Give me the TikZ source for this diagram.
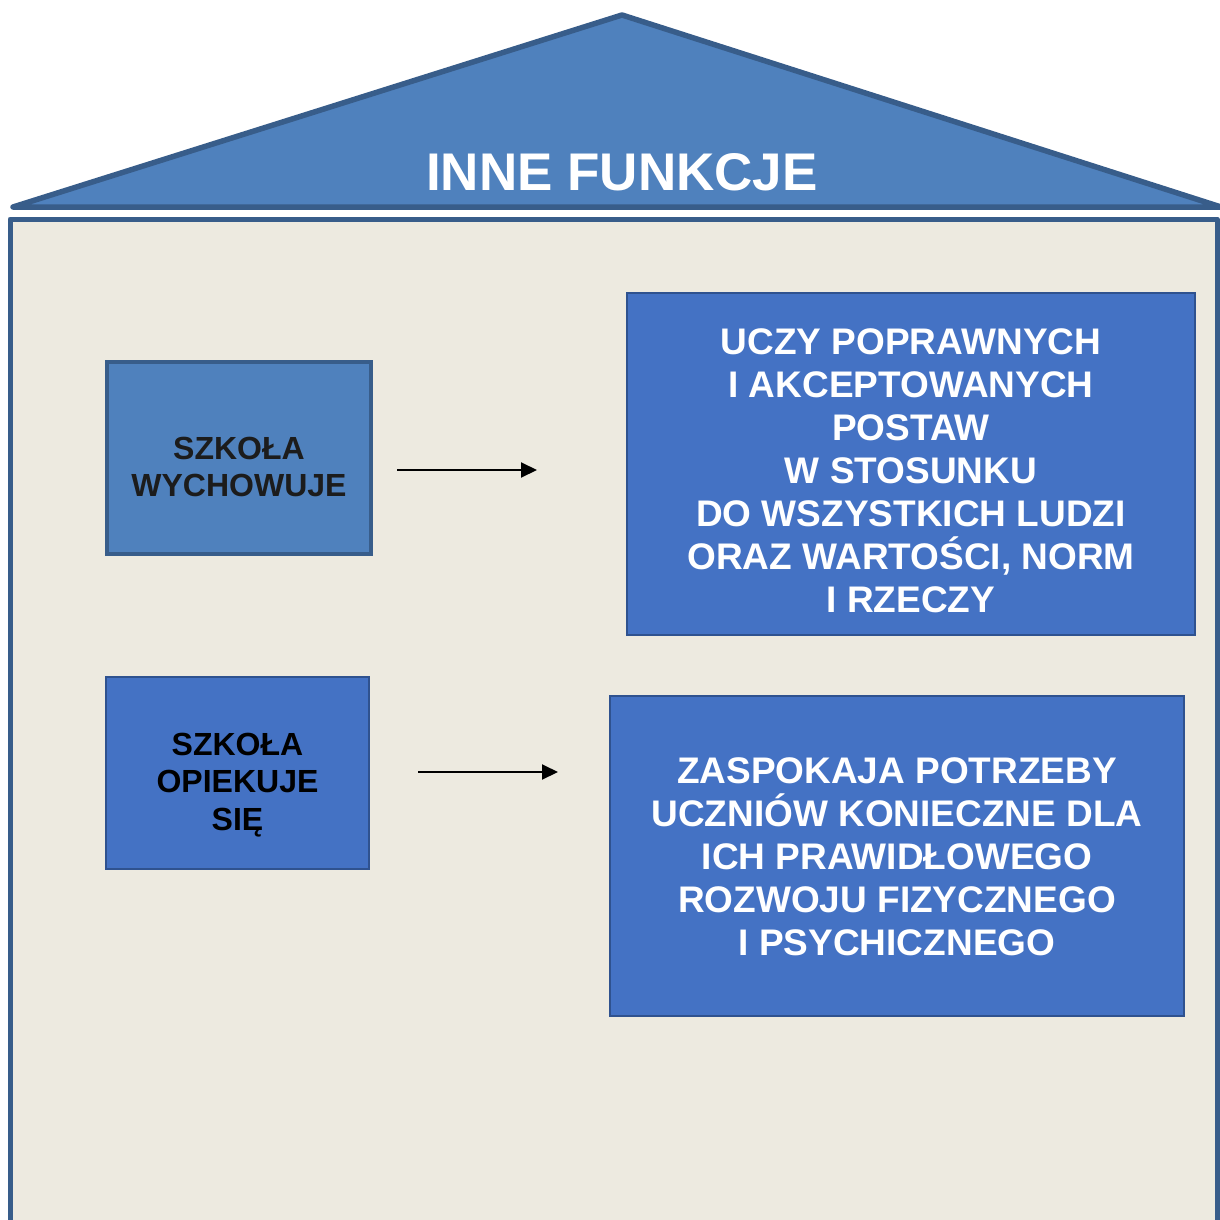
\documentclass[tikz,border=0pt]{standalone}
\usepackage{fontspec}
\setmainfont{Liberation Sans}
\usetikzlibrary{arrows.meta}
\definecolor{roofblue}{HTML}{4F81BD}
\definecolor{darkedge}{HTML}{385D8A}
\definecolor{boxblue}{HTML}{4472C4}
\definecolor{boxedge}{HTML}{2F528F}
\definecolor{wallfill}{HTML}{EDEAE0}
\definecolor{darktext}{HTML}{1C1C1C}
\tikzset{
  wall/.style={fill=wallfill, draw=darkedge, line width=5pt, line join=round},
  roof/.style={fill=roofblue, draw=darkedge, line width=5.5pt, line join=round},
  leftbox/.style={draw=darkedge, fill=roofblue, line width=4pt, minimum width=264pt, minimum height=192pt, inner sep=0pt},
  leftboxb/.style={draw=boxedge, fill=boxblue, line width=2pt, minimum width=263pt, minimum height=192pt, inner sep=0pt},
  rightbox/.style={draw=boxedge, fill=boxblue, line width=2pt, inner sep=0pt},
  smalltext/.style={font=\fontsize{32}{37.5}\selectfont\bfseries, align=center},
  bigtext/.style={font=\fontsize{37}{43}\selectfont\bfseries, align=center, text=white},
  arr/.style={-{Triangle[length=16pt,width=15pt]}, line width=2pt, black}
}
\begin{document}
\begin{tikzpicture}[x=1pt,y=-1pt]
\useasboundingbox (0,0) rectangle (1220,1220);
% wall
\draw[wall] (10,1245) -- (10,219) -- (1217,219) -- (1217,1245);
% roof
\draw[roof] (13,207) -- (622,15) -- (1221,207) -- cycle;
\node[anchor=base, text=white, font=\fontsize{53}{60}\selectfont\bfseries] (title) at (622,190) {INNE FUNKCJE};
% left boxes
\node[leftbox, label={[smalltext, text=darktext, yshift=-9pt]center:SZKOŁA\\WYCHOWUJE}] (b1) at (239,458) {};
\node[leftboxb, label={[smalltext, text=black, yshift=-12pt]center:SZKOŁA\\OPIEKUJE\\SIĘ}] (b2) at (237.5,773) {};
% right boxes
\node[rightbox, minimum width=568pt, minimum height=342pt, label={[bigtext, yshift=-7pt]center:UCZY POPRAWNYCH\\I AKCEPTOWANYCH\\POSTAW\\W STOSUNKU\\DO WSZYSTKICH LUDZI\\ORAZ WARTOŚCI, NORM\\I RZECZY}] (r1) at (911,464) {};
\node[rightbox, minimum width=574pt, minimum height=320pt, label={[bigtext, yshift=-1pt]center:ZASPOKAJA POTRZEBY\\UCZNIÓW KONIECZNE DLA\\ICH PRAWIDŁOWEGO\\ROZWOJU FIZYCZNEGO\\I PSYCHICZNEGO}] (r2) at (897,856) {};
% arrows
\coordinate (a1s) at (397,470);
\coordinate (a1e) at (537,470);
\coordinate (a2s) at (418,772);
\coordinate (a2e) at (558,772);
\draw[arr] (a1s) -- (a1e);
\draw[arr] (a2s) -- (a2e);
\end{tikzpicture}
\end{document}
